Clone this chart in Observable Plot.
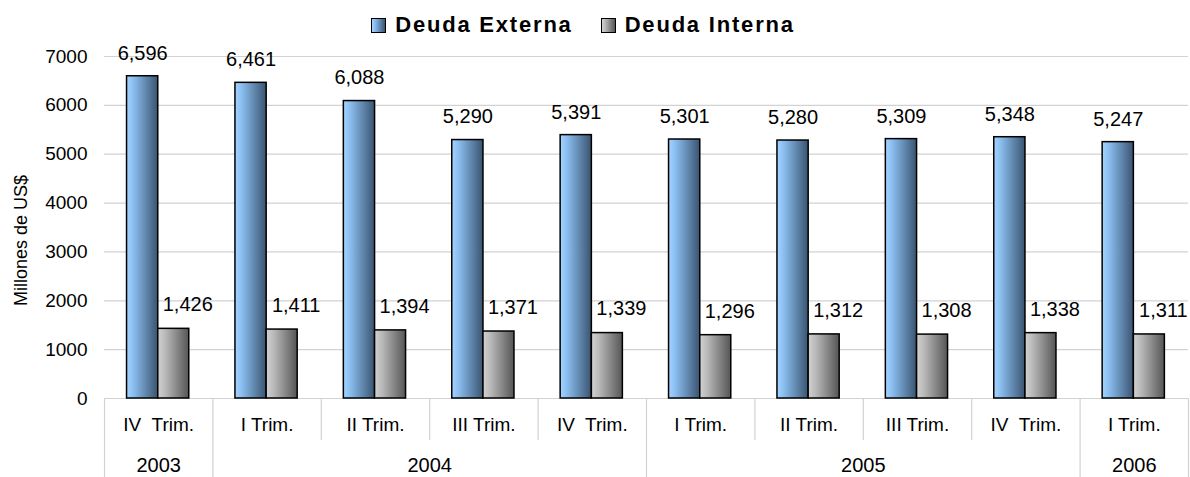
<!DOCTYPE html>
<html>
<head>
<meta charset="utf-8">
<script src="https://cdn.jsdelivr.net/npm/d3@7"></script>
<script src="https://cdn.jsdelivr.net/npm/@observablehq/plot@0.6"></script>
<style>
  html, body { margin: 0; padding: 0; background: #fff; }
  body { width: 1190px; height: 477px; overflow: hidden; font-family: "Liberation Sans", Arial, sans-serif; }
  #legend { height: 44px; display: flex; justify-content: center; align-items: center; box-sizing: border-box; padding-top: 6px; padding-right: 24px;
            font-weight: bold; font-size: 22px; letter-spacing: 1.8px; color: #000; }
  #legend .item { display: flex; align-items: center; margin: 0 14px; }
  #legend .sw { width: 13px; height: 13px; border: 1px solid #000; margin-right: 9px; }
  #chart svg { display: block; }
</style>
</head>
<body>
<div id="legend"></div>
<div id="chart"></div>
<script>
// ---- data ----
const quarters = ["IV  Trim.", "I Trim.", "II Trim.", "III Trim.", "IV  Trim.", "I Trim.", "II Trim.", "III Trim.", "IV  Trim.", "I Trim."];
const years = ["2003", "2004", "2004", "2004", "2004", "2005", "2005", "2005", "2005", "2006"];
const externa = [6596, 6461, 6088, 5290, 5391, 5301, 5280, 5309, 5348, 5247];
const interna = [1426, 1411, 1394, 1371, 1339, 1296, 1312, 1308, 1338, 1311];
const seriesNames = ["Deuda Externa", "Deuda Interna"];
const yTicks = [0, 1000, 2000, 3000, 4000, 5000, 6000, 7000];
const yTitle = "Millones de US$";

// ---- derived tables ----
const n = quarters.length;
const rows = quarters.map((q, i) => ({i, q, year: years[i], ext: externa[i], int: interna[i]}));
const yearGroups = [];
years.forEach((y, i) => {
  const last = yearGroups[yearGroups.length - 1];
  if (last && last.year === y) last.end = i + 1;
  else yearGroups.push({year: y, start: i, end: i + 1});
});
const yearBounds = new Set([0, ...yearGroups.map(g => g.end)]);
const bounds = d3.range(0, n + 1);
const quarterBounds = bounds.filter(b => !yearBounds.has(b));

// bar layout within each category (fractions of the category width)
const extL = 0.208, mid = 0.496, intR = 0.782;
const fmt = d3.format(",");
const font = "'Liberation Sans', Arial, sans-serif";

// legend
const gradCss = [
  "linear-gradient(to right, #a4d3ff 0%, #8cc0f2 20%, #3a5470 100%)",
  "linear-gradient(to right, #d2d2d2 0%, #b8b8b8 25%, #555555 100%)"
];
const legend = document.getElementById("legend");
seriesNames.forEach((name, k) => {
  const it = document.createElement("div");
  it.className = "item";
  const sw = document.createElement("div");
  sw.className = "sw";
  sw.style.background = gradCss[k];
  const t = document.createElement("span");
  t.textContent = name;
  it.appendChild(sw); it.appendChild(t);
  legend.appendChild(it);
});

const chart = Plot.plot({
  width: 1190,
  height: 433,
  marginLeft: 104,
  marginRight: 2,
  marginTop: 12,
  marginBottom: 79,
  style: {fontFamily: font, background: "#fff", overflow: "visible"},
  x: {domain: [0, n], axis: null},
  y: {domain: [0, 7000], axis: null},
  marks: [
    // gridlines
    Plot.ruleY(yTicks, {stroke: "#d2d2d2", strokeWidth: 1.2}),
    // y tick labels
    Plot.text(yTicks, {x: 0, y: d => d, text: d => String(d), textAnchor: "end", dx: -17,
                       fontSize: 19, fill: "#000", style: "letter-spacing:1px"}),
    // y title
    Plot.text([yTitle], {frameAnchor: "left", textAnchor: "middle", rotate: -90, dx: -83, dy: 13, fontSize: 18, fill: "#000"}),
    // table: quarter separators (short) and year separators (long)
    Plot.ruleX(quarterBounds, {x: d => d, y1: 0, y2: 0, insetBottom: -42, stroke: "#d2d2d2", strokeWidth: 1.2}),
    Plot.ruleX([...yearBounds], {x: d => d, y1: 0, y2: 0, insetBottom: -79, stroke: "#d2d2d2", strokeWidth: 1.2}),
    // quarter labels
    Plot.text(rows, {x: d => d.i + 0.5, frameAnchor: "bottom", dy: 32, text: "q", fontSize: 19, fill: "#000",
                     style: "white-space:pre"}),
    // year labels
    Plot.text(yearGroups, {x: d => (d.start + d.end) / 2, frameAnchor: "bottom", dy: 73, text: "year", fontSize: 20, fill: "#000"}),
    // bars
    Plot.rectY(rows, {x1: d => d.i + extL, x2: d => d.i + mid, y: "ext", fill: "url(#gExt)", stroke: "#000", strokeWidth: 1.5}),
    Plot.rectY(rows, {x1: d => d.i + mid, x2: d => d.i + intR, y: "int", fill: "url(#gInt)", stroke: "#000", strokeWidth: 1.5}),
    // value labels
    Plot.text(rows, {x: d => d.i + (extL + mid) / 2, y: "ext", text: d => fmt(d.ext), dy: -23, fontSize: 20, fill: "#000"}),
    Plot.text(rows, {x: d => d.i + (mid + intR) / 2, y: "int", text: d => fmt(d.int), dx: 14, dy: -24, fontSize: 20, fill: "#000"})
  ]
});

// gradient definitions
const defs = d3.select(chart).insert("defs", ":first-child");
const mk = (id, stops) => {
  const g = defs.append("linearGradient").attr("id", id).attr("x1", "0%").attr("x2", "100%").attr("y1", "0%").attr("y2", "0%");
  stops.forEach(([o, c]) => g.append("stop").attr("offset", o).attr("stop-color", c));
};
mk("gExt", [["0%", "#a4d3ff"], ["20%", "#8cc0f2"], ["100%", "#3a5470"]]);
mk("gInt", [["0%", "#d2d2d2"], ["25%", "#b8b8b8"], ["100%", "#555555"]]);

document.getElementById("chart").appendChild(chart);
</script>
</body>
</html>
